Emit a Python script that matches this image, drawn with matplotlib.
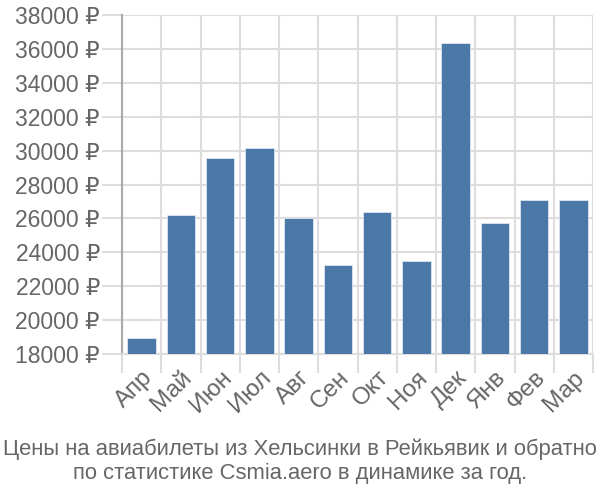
import matplotlib.pyplot as plt
import numpy as np

months = ["Апр", "Май", "Июн", "Июл", "Авг", "Сен", "Окт", "Ноя", "Дек", "Янв", "Фев", "Мар"]
prices = [18950, 26200, 29560, 30150, 26020, 23250, 26380, 23490, 36340, 25730, 27110, 27110]
yticks = np.arange(18000, 38001, 2000)
title = "Цены на авиабилеты из Хельсинки в Рейкьявик и обратно\nпо статистике Csmia.aero в динамике за год."

plt.rcParams['font.family'] = ['Liberation Sans Narrow', 'Liberation Sans', 'DejaVu Sans']

fig = plt.figure(figsize=(6, 5), dpi=100)
ax = fig.add_axes([122 / 600, 1 - 354 / 500, (593 - 122) / 600, (354 - 15) / 500])

x = np.arange(len(months))
ax.bar(x, prices, width=0.73, color="#4c78a8", edgecolor="#dce6f0", linewidth=0.6, zorder=3)

ax.set_xlim(-0.5, len(months) - 0.5)
ax.set_ylim(18000, 38000)

ax.set_yticks(yticks)
ax.set_yticklabels([f"{v} ₽" for v in yticks], fontsize=16.5, color="#666666",
                   family=['Liberation Sans', 'DejaVu Sans'])
ax.tick_params(axis='y', length=14.4, color="#dddddd", width=1.5, pad=1.5)

ax.set_xticks(x)
ax.set_xticklabels(months, rotation=45, ha='right', rotation_mode='anchor',
                   fontsize=17.5, color="#666666", family=['Liberation Sans', 'DejaVu Sans'])
ax.tick_params(axis='x', which='major', length=0, pad=9)
ax.set_xticks(np.arange(-0.5, len(months)), minor=True)
ax.tick_params(axis='x', which='minor', length=13.7, color="#dddddd", width=1.5)

ax.grid(True, axis='y', color="#dddddd", linewidth=1.5, zorder=0)
ax.grid(True, axis='x', which='minor', color="#dddddd", linewidth=1.5, zorder=0)

for s in ['top', 'right']:
    ax.spines[s].set_visible(False)
ax.spines['bottom'].set_color("#dddddd")
ax.spines['bottom'].set_linewidth(1.5)
ax.spines['left'].set_color("#aaaaaa")
ax.spines['left'].set_linewidth(1.5)

fig.text(0.5, 1 - 461 / 500, title, ha='center', va='center', fontsize=15.8,
         color="#666666", linespacing=1.2)

fig.savefig("out.png", dpi=100)
